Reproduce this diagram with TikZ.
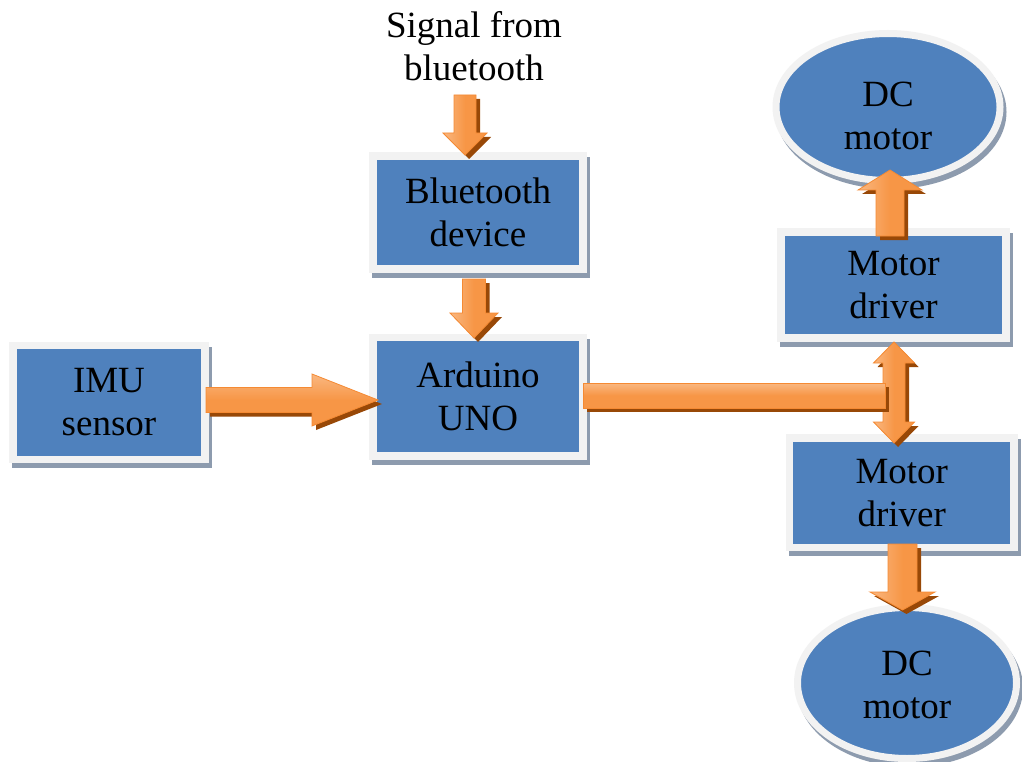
\documentclass[tikz,border=0pt]{standalone}
\usepackage{fontspec}
\setmainfont{Liberation Serif}
\usetikzlibrary{calc,shapes.geometric}
\definecolor{boxblue}{HTML}{4F81BD}
\definecolor{framegray}{HTML}{F2F2F2}
\definecolor{shadowgray}{RGB}{141,155,174}
\definecolor{arrorange}{HTML}{F79646}
\definecolor{arrlight}{HTML}{FAC090}
\definecolor{arrshadow}{HTML}{984807}
\definecolor{arredge}{HTML}{F58A33}
\pgfdeclarelayer{bg}
\pgfsetlayers{bg,main}
\tikzset{
  txt/.style={font=\fontsize{37}{43}\selectfont, align=center, text=black},
  blockbox/.style={txt, rectangle, draw=framegray, fill=boxblue, line width=7.5pt, inner sep=0pt},
  dcell/.style={ellipse, draw=framegray, fill=boxblue, line width=7pt, inner sep=0pt},
  arrshade/.style={fill=arrshadow, transform canvas={shift={(4pt,-4pt)}}},
  vmain/.style={draw=arredge, line width=0.8pt, left color=arrlight!80!arrorange, right color=arrorange, middle color=arrorange},
  hmain/.style={draw=arredge, line width=0.8pt, top color=arrlight!80!arrorange, bottom color=arrorange, middle color=arrorange},
  boxshade/.style={fill=shadowgray, transform canvas={shift={(3pt,-5pt)}}}
}
% vertical block arrow: start, tip, half shaft, half head, signed head length, style
\newcommand\vpath[6]{%
  \path[#6] let \p1=(#1), \p2=(#2) in ({\x2-#3pt},\y1) -- ({\x2+#3pt},\y1) -- ({\x2+#3pt},{\y2-(#5pt)}) -- ({\x2+#4pt},{\y2-(#5pt)}) -- (\x2,\y2) -- ({\x2-#4pt},{\y2-(#5pt)}) -- ({\x2-#3pt},{\y2-(#5pt)}) -- cycle;}
\newcommand\varrow[5]{\vpath{#1}{#2}{#3}{#4}{#5}{arrshade}\vpath{#1}{#2}{#3}{#4}{#5}{vmain}}
% horizontal block arrow (rightwards)
\newcommand\hpath[6]{%
  \path[#6] let \p1=(#1), \p2=(#2) in (\x1,{\y2+#3pt}) -- ({\x2-#5pt},{\y2+#3pt}) -- ({\x2-#5pt},{\y2+#4pt}) -- (\x2,\y2) -- ({\x2-#5pt},{\y2-#4pt}) -- ({\x2-#5pt},{\y2-#3pt}) -- (\x1,{\y2-#3pt}) -- cycle;}
\newcommand\harrow[5]{\hpath{#1}{#2}{#3}{#4}{#5}{arrshade}\hpath{#1}{#2}{#3}{#4}{#5}{hmain}}
% double vertical block arrow: top tip, bottom tip
\newcommand\dpath[6]{%
  \path[#6] let \p1=(#1), \p2=(#2) in (\x1,\y1) -- ({\x1+#4pt},{\y1-#5pt}) -- ({\x1+#3pt},{\y1-#5pt}) -- ({\x1+#3pt},{\y2+#5pt}) -- ({\x1+#4pt},{\y2+#5pt}) -- (\x1,\y2) -- ({\x1-#4pt},{\y2+#5pt}) -- ({\x1-#3pt},{\y2+#5pt}) -- ({\x1-#3pt},{\y1-#5pt}) -- ({\x1-#4pt},{\y1-#5pt}) -- cycle;}
\newcommand\darrow[5]{\dpath{#1}{#2}{#3}{#4}{#5}{arrshade}\dpath{#1}{#2}{#3}{#4}{#5}{vmain}}
\begin{document}
\begin{tikzpicture}[x=1pt,y=-1pt]
\useasboundingbox (0,0) rectangle (1022,762);
% boxes
\node[blockbox, minimum width=192pt, minimum height=114pt] (imu) at (109,402.5) {IMU\\sensor};
\node[blockbox, minimum width=210pt, minimum height=113pt] (bt) at (478,212.7) {Bluetooth\\device};
\node[blockbox, minimum width=210pt, minimum height=118.5pt] (ard) at (478,396.8) {Arduino\\UNO};
\node[blockbox, minimum width=225pt, minimum height=106pt] (md1) at (893.5,285) {Motor\\driver};
\node[blockbox, minimum width=224.5pt, minimum height=109.5pt] (md2) at (901.8,492.7) {Motor\\driver};
\node[dcell, minimum width=224pt, minimum height=147pt] (dc1) at (888,107) {};
\node[txt] (dc1t) at (888,116) {DC\\motor};
\node[dcell, minimum width=219pt, minimum height=151pt] (dc2) at (907,683) {};
\node[txt] (dc2t) at (907,685) {DC\\motor};
\node[txt] (sig) at (474,46) {Signal from\\bluetooth};
% background and shadows
\begin{pgfonlayer}{bg}
\fill[white] (0,0) rectangle (1022,762);
\foreach \n in {imu,bt,ard,md1,md2}
  \fill[boxshade] (\n.south west) rectangle (\n.north east);
\fill[boxshade] (dc1.center) ellipse [x radius=115.5pt, y radius=77pt];
\fill[boxshade] (dc2.center) ellipse [x radius=113pt, y radius=79pt];
\end{pgfonlayer}
% arrow end points
\coordinate (a1s) at (465,95);   \coordinate (a1t) at (465,155);
\coordinate (a2s) at (474,279);  \coordinate (a2t) at (474,338);
\coordinate (a3s) at (206,400);  \coordinate (a3t) at (378,400);
\coordinate (a4s) at (583,383);  \coordinate (a4t) at (885,408);
\coordinate (a5t) at (894,342);  \coordinate (a5b) at (894,443);
\coordinate (a6s) at (890,236);  \coordinate (a6t) at (890,170);
\coordinate (a7s) at (902.5,544); \coordinate (a7t) at (902.5,610);
% arrows
\varrow{a1s}{a1t}{11}{22}{-22}
\varrow{a2s}{a2t}{11.5}{24}{-25}
\harrow{a3s}{a3t}{12.5}{26}{66}
\varrow{a6s}{a6t}{14}{32}{20}
\varrow{a7s}{a7t}{14.5}{32.5}{-18}
\darrow{a5t}{a5b}{11}{20.5}{21}
\fill[arrshade] (a4s) rectangle (a4t);
\draw[hmain] (a4s) rectangle (a4t);
\end{tikzpicture}
\end{document}
